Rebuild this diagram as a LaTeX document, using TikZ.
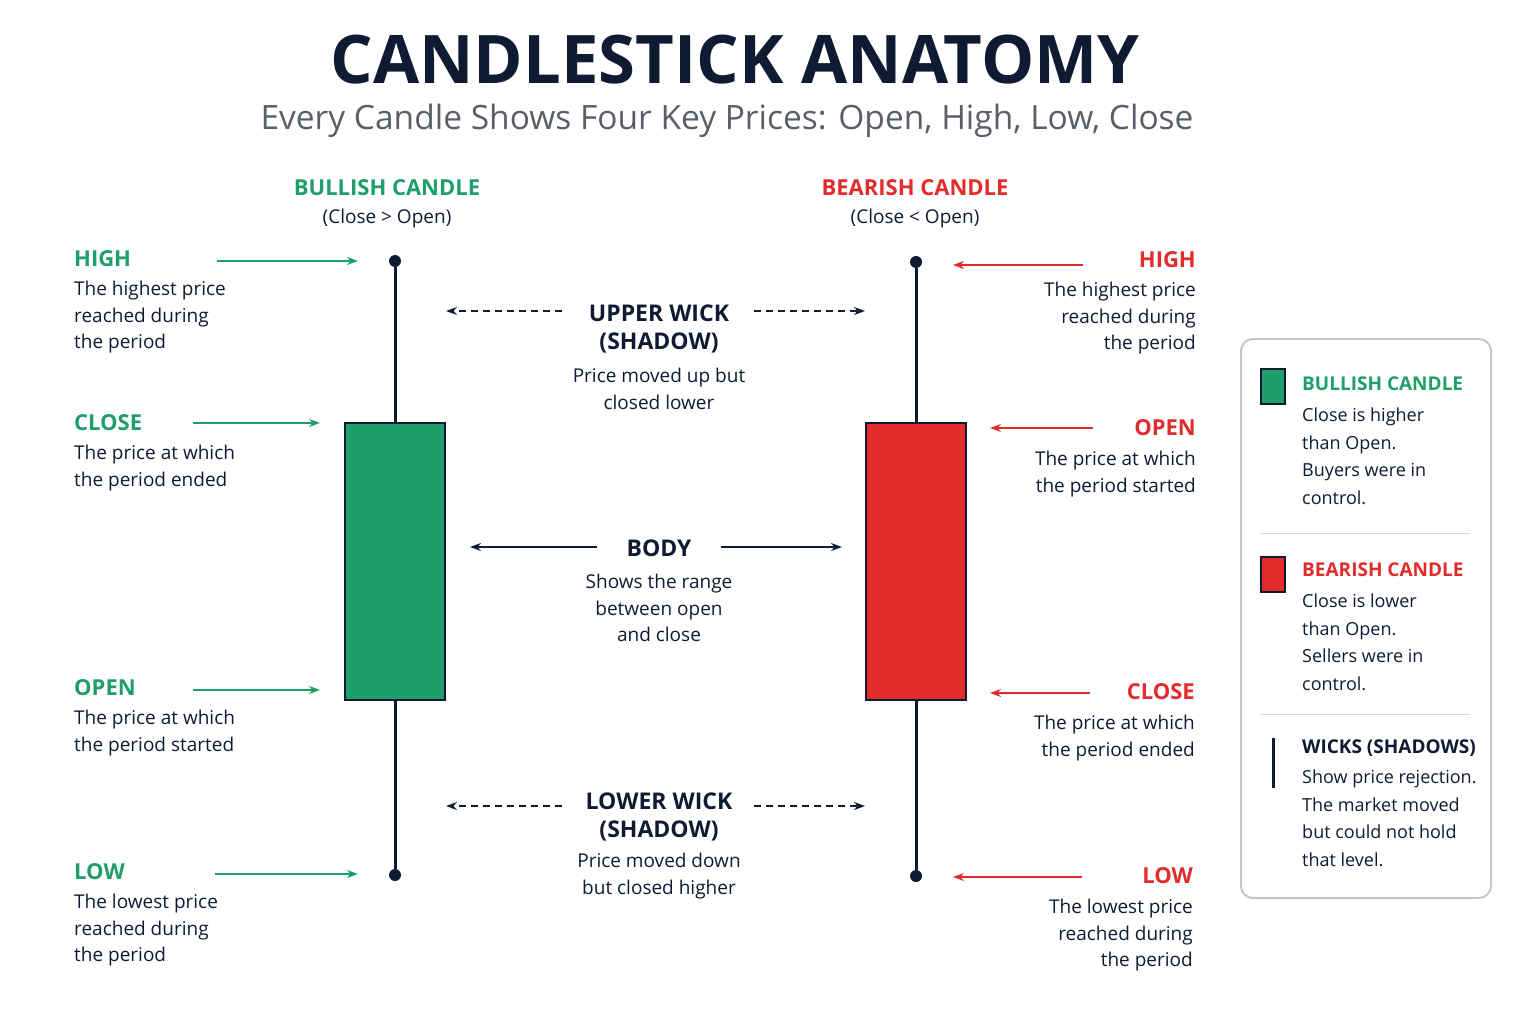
\documentclass[tikz,border=0pt]{standalone}
\usepackage{fontspec}
\setmainfont{Open Sans}
\usetikzlibrary{arrows.meta}
\definecolor{bull}{HTML}{1E9E6A}
\definecolor{bear}{HTML}{E22B2B}
\definecolor{navy}{HTML}{0F1B33}
\definecolor{subgray}{HTML}{5A5F66}
\begin{document}
\begin{tikzpicture}[x=1pt,y=-1pt,
  every node/.style={inner sep=0pt},
  head/.style={font=\fontsize{22}{26}\selectfont\bfseries},
  txt/.style={font=\fontsize{19}{26.5}\selectfont, text=navy},
  legtxt/.style={font=\fontsize{18}{27.5}\selectfont, text=navy, align=left, anchor=north west},
  ptr/.style={-{Stealth[length=11pt,width=8pt]}, line width=1.6pt},
  dashptr/.style={ptr, dashed, dash pattern=on 7pt off 5pt, navy},
  wick/.style={line width=3pt, navy},
  tip/.style={circle, fill=navy, minimum size=12pt}]
\useasboundingbox (0,0) rectangle (1536,1024);
% title
\node (title) at (735,60) {\fontsize{67}{78}\selectfont\bfseries\color{navy}CANDLESTICK ANATOMY};
\node (subtitle) at (727,121) {\fontsize{33.5}{40}\selectfont\color{subgray}Every Candle Shows Four Key Prices: Open, High, Low, Close};
% headers
\node[head, text=bull] (bullhead) at (387,188) {BULLISH CANDLE};
\node[txt] (bullsub) at (387,219) {(Close > Open)};
\node[head, text=bear] (bearhead) at (915,188) {BEARISH CANDLE};
\node[txt] (bearsub) at (915,219) {(Close < Open)};
% bullish candle
\node[tip] (bullhigh) at (395,261) {};
\node[tip] (bulllow) at (395,875) {};
\draw[wick] (bullhigh) -- (bulllow);
\node[draw=navy, line width=2.5pt, fill=bull, minimum width=100pt, minimum height=277pt] (bullbody) at (395,561.5) {};
% bearish candle
\node[tip] (bearhigh) at (916,262) {};
\node[tip] (bearlow) at (916,876) {};
\draw[wick] (bearhigh) -- (bearlow);
\node[draw=navy, line width=2.5pt, fill=bear, minimum width=100pt, minimum height=277pt] (bearbody) at (916,561.5) {};
% left labels
\node[head, text=bull, anchor=west] (lhigh) at (74,259) {HIGH};
\node[txt, align=left, anchor=north west] (lhight) at (74,281) {The highest price\\reached during\\the period};
\node[head, text=bull, anchor=west] (lclose) at (74,423) {CLOSE};
\node[txt, align=left, anchor=north west] (lcloset) at (74,445) {The price at which\\the period ended};
\node[head, text=bull, anchor=west] (lopen) at (74,688) {OPEN};
\node[txt, align=left, anchor=north west] (lopent) at (74,710) {The price at which\\the period started};
\node[head, text=bull, anchor=west] (llow) at (74,872) {LOW};
\node[txt, align=left, anchor=north west] (llowt) at (74,894) {The lowest price\\reached during\\the period};
\coordinate (a1) at (217,261); \coordinate (b1) at (358,261);
\coordinate (a2) at (193,423); \coordinate (b2) at (320,423);
\coordinate (a3) at (193,690); \coordinate (b3) at (320,690);
\coordinate (a4) at (215,874); \coordinate (b4) at (358,874);
\foreach \i in {1,...,4} \draw[ptr, bull] (a\i) -- (b\i);
% right labels
\node[head, text=bear, anchor=east] (rhigh) at (1196,260) {HIGH};
\node[txt, align=right, anchor=north east] (rhight) at (1196,282) {The highest price\\reached during\\the period};
\node[head, text=bear, anchor=east] (ropen) at (1196,428) {OPEN};
\node[txt, align=right, anchor=north east] (ropent) at (1196,451) {The price at which\\the period started};
\node[head, text=bear, anchor=east] (rclose) at (1195,692) {CLOSE};
\node[txt, align=right, anchor=north east] (rcloset) at (1195,715) {The price at which\\the period ended};
\node[head, text=bear, anchor=east] (rlow) at (1193,876) {LOW};
\node[txt, align=right, anchor=north east] (rlowt) at (1193,899) {The lowest price\\reached during\\the period};
\coordinate (c1) at (1083,265); \coordinate (d1) at (953,265);
\coordinate (c2) at (1093,428); \coordinate (d2) at (990,428);
\coordinate (c3) at (1090,693); \coordinate (d3) at (990,693);
\coordinate (c4) at (1082,877); \coordinate (d4) at (953,877);
\foreach \i in {1,...,4} \draw[ptr, bear] (c\i) -- (d\i);
% centre notes
\node[head, text=navy, align=center, font=\fontsize{23}{28}\selectfont\bfseries] (upper) at (659,329) {UPPER WICK\\(SHADOW)};
\node[txt, align=center, anchor=north] (uppert) at (659,368) {Price moved up but\\closed lower};
\node[head, text=navy, font=\fontsize{23}{28}\selectfont\bfseries] (body) at (659,548) {BODY};
\node[txt, align=center, anchor=north] (bodyt) at (659,574) {Shows the range\\between open\\and close};
\node[head, text=navy, align=center, font=\fontsize{23}{28}\selectfont\bfseries] (lower) at (659,817) {LOWER WICK\\(SHADOW)};
\node[txt, align=center, anchor=north] (lowert) at (659,853) {Price moved down\\but closed higher};
\coordinate (u1) at (562,311); \coordinate (u2) at (446,311);
\coordinate (u3) at (754,311); \coordinate (u4) at (865,311);
\coordinate (w1) at (562,806); \coordinate (w2) at (446,806);
\coordinate (w3) at (754,806); \coordinate (w4) at (865,806);
\draw[dashptr] (u1) -- (u2);
\draw[dashptr] (u3) -- (u4);
\draw[dashptr] (w1) -- (w2);
\draw[dashptr] (w3) -- (w4);
\coordinate (m1) at (597,547); \coordinate (m2) at (470,547);
\coordinate (m3) at (721,547); \coordinate (m4) at (842,547);
\draw[ptr, navy] (m1) -- (m2);
\draw[ptr, navy] (m3) -- (m4);
% legend
\node[draw=gray!45, line width=2pt, rounded corners=12pt, minimum width=250pt, minimum height=559pt] (legend) at (1366,618.5) {};
\node[draw=navy, line width=1.8pt, fill=bull, minimum width=24pt, minimum height=35pt] (legbull) at (1273,386.5) {};
\node[head, text=bull, anchor=west, font=\fontsize{19}{24}\selectfont\bfseries] (legbullh) at (1302,384) {BULLISH CANDLE};
\node[legtxt] (legbullt) at (1302,408) {Close is higher\\than Open.\\Buyers were in\\control.};
\draw[gray!30, line width=1pt] (1260,533) -- (1470,533);
\node[draw=navy, line width=1.8pt, fill=bear, minimum width=24pt, minimum height=35pt] (legbear) at (1273,574.5) {};
\node[head, text=bear, anchor=west, font=\fontsize{19}{24}\selectfont\bfseries] (legbearh) at (1302,570) {BEARISH CANDLE};
\node[legtxt] (legbeart) at (1302,594) {Close is lower\\than Open.\\Sellers were in\\control.};
\draw[gray!30, line width=1pt] (1260,714) -- (1470,714);
\coordinate (lw1) at (1273,738); \coordinate (lw2) at (1273,788);
\draw[wick] (lw1) -- (lw2);
\node[head, text=navy, anchor=west, font=\fontsize{19}{24}\selectfont\bfseries] (legwickh) at (1302,748) {WICKS (SHADOWS)};
\node[legtxt] (legwickt) at (1302,770) {Show price rejection.\\The market moved\\but could not hold\\that level.};
\end{tikzpicture}
\end{document}
